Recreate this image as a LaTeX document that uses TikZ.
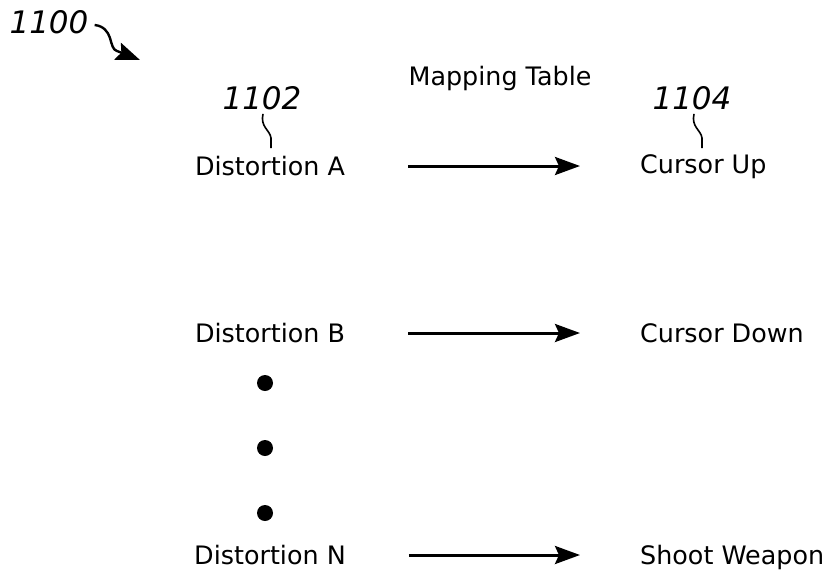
\documentclass[tikz,border=0pt]{standalone}
\usepackage{fontspec}
\setmainfont{DejaVu Sans}
\usetikzlibrary{arrows.meta}
\begin{document}
\begin{tikzpicture}[x=1pt,y=1pt]
	\tikzset{lbl/.style={font=\fontsize{25.4}{30}\selectfont,inner sep=0pt,
	                     text height=22pt,text depth=4pt},
	         ref/.style={font=\fontsize{31}{36}\selectfont\itshape,inner sep=0pt},
	         dot/.style={circle,fill=black,inner sep=0pt,minimum size=16pt},
	         map/.style={line width=3pt,shorten <=63pt,shorten >=60pt,
	                     -{Stealth[length=25pt,width=18pt,inset=4pt]}},
	         lead/.style={line width=1.6pt}}
	\useasboundingbox (0,0) rectangle (830,-576);
	% left and right columns
	\node[lbl] (distA) at (270,-166) {Distortion A};
	\node[lbl] (distB) at (270,-333) {Distortion B};
	\node[lbl] (distN) at (270,-555) {Distortion N};
	\node[lbl,anchor=west] (curUp) at (640,-164) {Cursor Up};
	\node[lbl,anchor=west] (curDown) at (640,-333) {Cursor Down};
	\node[lbl,anchor=west] (shoot) at (640,-555) {Shoot Weapon};
	\node[lbl] (title) at (500,-76) {Mapping Table};
	\node[dot] (d1) at (265,-383) {};
	\node[dot] (d2) at (265,-448) {};
	\node[dot] (d3) at (265,-513) {};
	% reference numerals
	\node[ref] (r1100) at (49,-22) {1100};
	\node[ref] (r1102) at (262,-98) {1102};
	\node[ref] (r1104) at (692,-98) {1104};
	\coordinate (fig) at (140,-60);
	\draw[line width=2.4pt,-{Stealth[length=24pt,width=18pt,inset=4pt]}] (r1100.east) ++(6,-3)
	  .. controls (104,-26) and (108,-32) .. (110,-38)
	  .. controls (112,-45) and (113,-50) .. (117,-51) -- (fig);
	\draw[lead] (r1102.south) ++(1,-4) .. controls (260,-127) and (270,-130) .. (271,-138)
	  -- (271,-148);
	\draw[lead] (r1104.south) ++(2,-4) .. controls (691,-127) and (701,-130) .. (702,-138)
	  -- (702,-148);
	% mapping arrows
	\draw[map] (distA) -- (curUp.west |- distA);
	\draw[map] (distB) -- (curDown);
	\draw[map] (distN) -- (shoot);
\end{tikzpicture}
\end{document}
